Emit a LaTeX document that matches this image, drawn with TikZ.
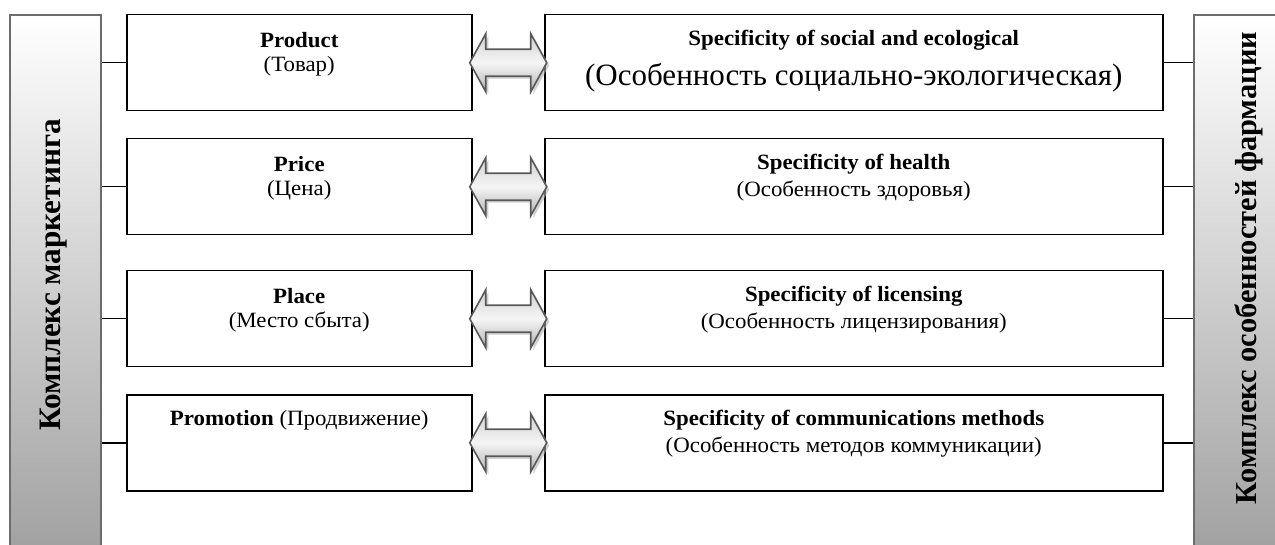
\documentclass[tikz,border=0pt]{standalone}
\usepackage{fontspec}
\setmainfont{Liberation Serif}
\newfontfamily\boxfont[FakeStretch=1.05]{Liberation Serif}
\usetikzlibrary{calc}
\begin{document}
\begin{tikzpicture}[x=1pt,y=-1pt,
  bar/.style={draw=gray!85!black, line width=1.8pt, top color=white, bottom color=gray!75, anchor=north west, inner sep=0pt, minimum width=91pt, minimum height=545pt},
  box/.style={draw=black, line width=1.5pt, fill=white, anchor=north west, inner sep=0pt, minimum height=96pt},
  lbox/.style={box, minimum width=345pt},
  rbox/.style={box, minimum width=618pt},
  txt/.style={font=\boxfont\fontsize{21.8}{26}\selectfont, inner sep=0pt, anchor=center},
  bigtxt/.style={font=\fontsize{31}{36}\selectfont, inner sep=0pt, anchor=center},
  vtxt/.style={font=\fontsize{31.2}{36}\selectfont\bfseries, rotate=90, inner sep=0pt, anchor=center},
  link/.style={line width=1.5pt, draw=black},
  dblarrow/.style={draw=gray!70!black, line width=1.6pt, top color=gray!35, bottom color=gray!60, middle color=white!92!gray},
  arrshadow/.style={fill=gray!60, opacity=0.6},
]
\useasboundingbox (0,0) rectangle (1275,545);

% side bars
\node[bar] (lbar) at (9,14) {};
\node[bar] (rbar) at (1193,14) {};
\node[vtxt] (ltitle) at (54,275) {Комплекс маркетинга};
\node[vtxt, font=\fontsize{30.4}{36}\selectfont\bfseries] (rtitle) at (1249,268) {Комплекс особенностей фармации};

% boxes
\node[lbox] (l1) at (126,14) {};
\node[lbox] (l2) at (126,138) {};
\node[lbox] (l3) at (126,270) {};
\node[lbox] (l4) at (126,394) {};
\node[rbox] (r1) at (544,14) {};
\node[rbox] (r2) at (544,138) {};
\node[rbox] (r3) at (544,270) {};
\node[rbox] (r4) at (544,394) {};

% texts
\node[txt] (l1a) at ($(l1.north)+(0,26)$) {\bfseries Product};
\node[txt] (l1b) at ($(l1.north)+(0,52)$) {(Товар)};
\node[txt] (l2a) at ($(l2.north)+(0,26)$) {\bfseries Price};
\node[txt] (l2b) at ($(l2.north)+(0,52)$) {(Цена)};
\node[txt] (l3a) at ($(l3.north)+(0,26)$) {\bfseries Place};
\node[txt] (l3b) at ($(l3.north)+(0,52)$) {(Место сбыта)};
\node[txt] (l4a) at ($(l4.north)+(0,26)$) {\textbf{Promotion} (Продвижение)};

\node[txt] (r1a) at ($(r1.north)+(0,26)$) {\bfseries Specificity of social and ecological};
\node[bigtxt] (r1b) at ($(r1.north)+(0,64)$) {(Особенность социально-экологическая)};
\node[txt] (r2a) at ($(r2.north)+(0,26)$) {\bfseries Specificity of health};
\node[txt] (r2b) at ($(r2.north)+(0,53)$) {(Особенность здоровья)};
\node[txt] (r3a) at ($(r3.north)+(0,26)$) {\bfseries Specificity of licensing};
\node[txt] (r3b) at ($(r3.north)+(0,53)$) {(Особенность лицензирования)};
\node[txt] (r4a) at ($(r4.north)+(0,26)$) {\bfseries Specificity of communications methods};
\node[txt] (r4b) at ($(r4.north)+(0,53)$) {(Особенность методов коммуникации)};

% connectors to bars
\foreach \i in {1,2,3,4}{
  \draw[link] (lbar.east |- l\i.west) -- (l\i.west);
  \draw[link] (r\i.east) -- (rbar.west |- r\i.east);
}

% double arrows
\foreach \i in {1,2,3,4}{
  \coordinate (a\i) at ($(l\i.east)!0.5!(r\i.west)$);
  \fill[arrshadow, shift={($(a\i)+(2.5,2.5)$)}] (-38.5,0) -- (-22.5,-29) -- (-22.5,-13.5) -- (22.5,-13.5) -- (22.5,-29) -- (38.5,0) -- (22.5,29) -- (22.5,13.5) -- (-22.5,13.5) -- (-22.5,29) -- cycle;
  \path[dblarrow, shift={(a\i)}] (-38.5,0) -- (-22.5,-29) -- (-22.5,-13.5) -- (22.5,-13.5) -- (22.5,-29) -- (38.5,0) -- (22.5,29) -- (22.5,13.5) -- (-22.5,13.5) -- (-22.5,29) -- cycle;
}
\end{tikzpicture}
\end{document}
